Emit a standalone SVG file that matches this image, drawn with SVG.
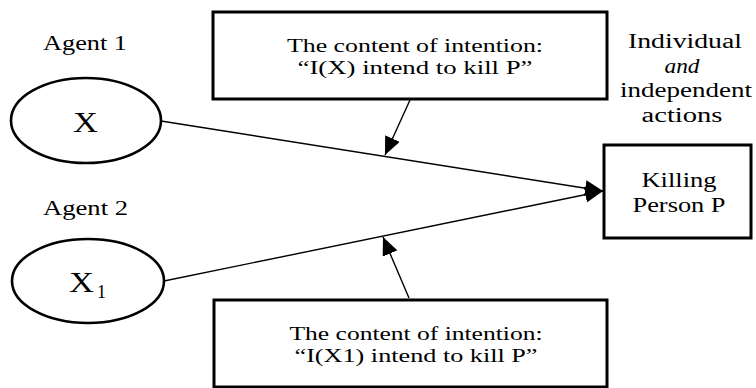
<svg xmlns="http://www.w3.org/2000/svg" width="756" height="388" viewBox="0 0 756 388">
  <style>
    text { font-family: 'Liberation Serif', 'Times New Roman', Times, serif; fill: #000; }
    .t { font-size: 20px; }
    .c { text-anchor: middle; }
    .box { font-size: 19px; }
    .shape { fill: #fff; stroke: #000; }
    .edge { fill: none; stroke: #000; stroke-width: 1.4; }
  </style>
  <defs>
    <marker id="head" markerUnits="userSpaceOnUse" viewBox="0 0 18 16" refX="18" refY="8" markerWidth="18" markerHeight="16" orient="auto">
      <path d="M0,0 L18,8 L0,16 z" fill="#000"/>
    </marker>
  </defs>
  <rect width="756" height="388" fill="#fff"/>

  <!-- connectors -->
  <g id="connectors">
    <line class="edge" x1="161" y1="121" x2="603" y2="191" marker-end="url(#head)"/>
    <line class="edge" x1="164" y1="281" x2="603" y2="191" marker-end="url(#head)"/>
    <line class="edge" x1="410" y1="100" x2="385" y2="155" marker-end="url(#head)"/>
    <line class="edge" x1="409" y1="298" x2="383" y2="237" marker-end="url(#head)"/>
  </g>

  <!-- agents -->
  <text class="t" x="43" y="50" font-family="Liberation Serif" textLength="84" lengthAdjust="spacingAndGlyphs">Agent 1</text>
  <g id="agent1">
    <ellipse class="shape" cx="86" cy="120.5" rx="75" ry="42.5" stroke-width="2.6"/>
    <text class="t c" x="85.5" y="132" style="font-size:29px" textLength="25" lengthAdjust="spacingAndGlyphs">X</text>
  </g>

  <text class="t" x="43" y="215" textLength="85" lengthAdjust="spacingAndGlyphs">Agent 2</text>
  <g id="agent2">
    <ellipse class="shape" cx="88" cy="281" rx="76" ry="42" stroke-width="2.6"/>
    <text class="t" x="69" y="292" style="font-size:29px" textLength="25" lengthAdjust="spacingAndGlyphs">X</text>
    <text class="t" x="97" y="298" style="font-size:19px" textLength="9" lengthAdjust="spacingAndGlyphs">1</text>
  </g>

  <!-- intention of agent 1 -->
  <g id="intent1">
    <rect class="shape" x="213" y="12" width="394" height="87" stroke-width="3"/>
    <text class="box c" x="415" y="52" textLength="256" lengthAdjust="spacingAndGlyphs">The content of intention:</text>
    <text class="box c" x="415" y="73.5" textLength="235" lengthAdjust="spacingAndGlyphs">“I(X) intend to kill P”</text>
  </g>

  <!-- intention of agent 2 -->
  <g id="intent2">
    <rect class="shape" x="214" y="300" width="393" height="87" stroke-width="3"/>
    <text class="box c" x="416" y="340" textLength="253" lengthAdjust="spacingAndGlyphs">The content of intention:</text>
    <text class="box c" x="416" y="361.5" textLength="243" lengthAdjust="spacingAndGlyphs">“I(X1) intend to kill P”</text>
  </g>

  <!-- outcome -->
  <g id="outcome">
    <rect class="shape" x="604" y="145" width="147" height="93" stroke-width="3"/>
    <text class="t c" x="679" y="187" textLength="75" lengthAdjust="spacingAndGlyphs">Killing</text>
    <text class="t c" x="679" y="212" textLength="93" lengthAdjust="spacingAndGlyphs">Person P</text>
  </g>

  <!-- note -->
  <g id="note">
    <text class="t c" x="685" y="48" textLength="114" lengthAdjust="spacingAndGlyphs">Individual</text>
    <text class="t c" x="682" y="72.5" style="font-style:italic" textLength="35" lengthAdjust="spacingAndGlyphs">and</text>
    <text class="t c" x="686" y="97" textLength="132" lengthAdjust="spacingAndGlyphs">independent</text>
    <text class="t c" x="682" y="121.5" textLength="81" lengthAdjust="spacingAndGlyphs">actions</text>
  </g>
</svg>
